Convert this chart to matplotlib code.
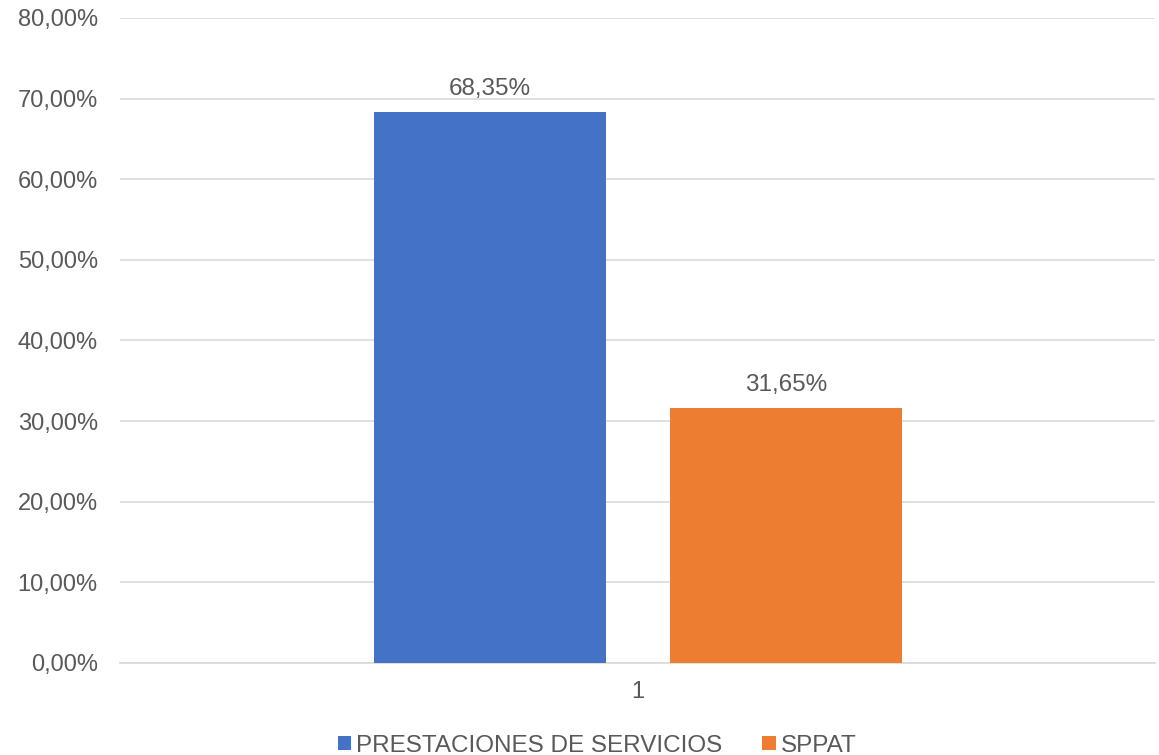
import matplotlib.pyplot as plt
import numpy as np

plt.rcParams["font.family"] = ["Liberation Sans", "DejaVu Sans"]

categories = ["1"]
series_names = ["PRESTACIONES DE SERVICIOS", "SPPAT"]
series_values = [68.35, 31.65]
colors = ["#4472C4", "#ED7D31"]
y_ticks = [0, 10, 20, 30, 40, 50, 60, 70, 80]

text_color = "#595959"

fig = plt.figure(figsize=(11.59, 7.55), dpi=100)
ax = fig.add_axes([120 / 1159, 92 / 755, 1035 / 1159, 645 / 755])

x = np.arange(len(categories))
width = 0.224
offsets = [-0.1425, 0.1435]
for name, val, col, off in zip(series_names, series_values, colors, offsets):
    bars = ax.bar(x + off, [val], width, color=col, label=name, zorder=3)
    for b in bars:
        ax.annotate(f"{b.get_height():.2f}%".replace(".", ","),
                    (b.get_x() + b.get_width() / 2, b.get_height()),
                    xytext=(0, 8.5), textcoords="offset points",
                    ha="center", va="bottom", fontsize=17.5, color=text_color)

ax.set_xlim(-0.5, 0.5)
ax.set_ylim(0, 80)
ax.set_yticks(y_ticks)
ax.set_yticklabels([f"{t:.2f}%".replace(".", ",") for t in y_ticks])
ax.set_xticks(x)
ax.set_xticklabels(categories)
ax.tick_params(axis="both", length=0, labelsize=17, colors=text_color)
ax.tick_params(axis="y", pad=16)
ax.tick_params(axis="x", pad=13)

ax.grid(axis="y", color="#d9d9d9", linewidth=1.2, zorder=0)
for s in ["top", "right", "left"]:
    ax.spines[s].set_visible(False)
ax.spines["bottom"].set_color("#d9d9d9")
ax.spines["bottom"].set_linewidth(1.2)

leg = ax.legend(loc="center", bbox_to_anchor=(0.461, -0.128), ncol=2,
                frameon=False, fontsize=17.5, handlelength=0.55, handleheight=0.55,
                handletextpad=0.2, columnspacing=1.65, borderpad=0)
for t in leg.get_texts():
    t.set_color(text_color)

fig.savefig("out.png", dpi=100)
